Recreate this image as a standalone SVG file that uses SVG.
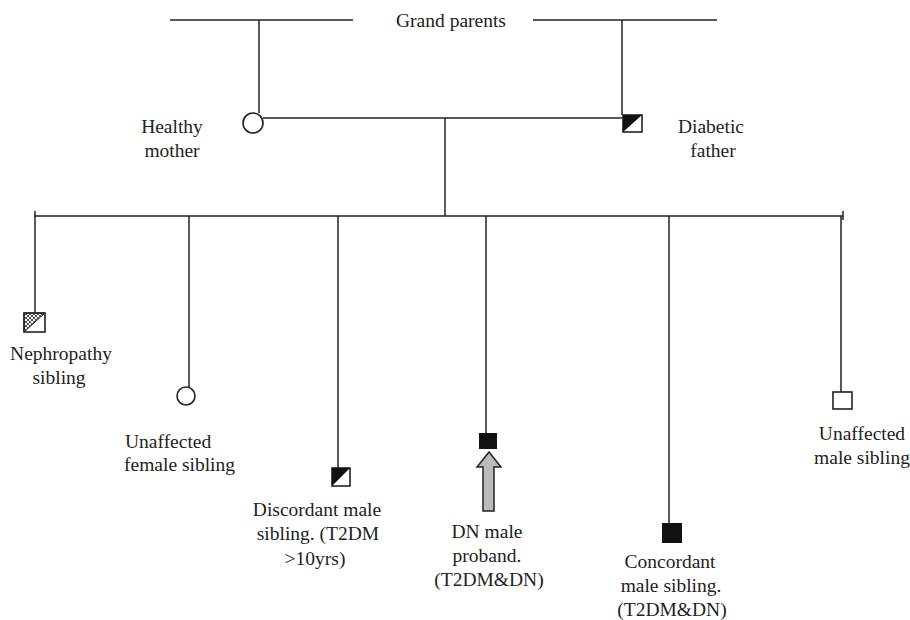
<svg xmlns="http://www.w3.org/2000/svg" width="910" height="620" viewBox="0 0 910 620">
<style>
.l{stroke:#222;stroke-width:1.5;fill:none}
.n{stroke:#222;stroke-width:1.6;fill:#fff}
.b{fill:#111}
text{font-family:"Liberation Serif","Times New Roman",serif;font-size:19.5px;fill:#222}
.m{text-anchor:middle}
</style>
<defs>
<pattern id="hatch" width="4" height="4" patternUnits="userSpaceOnUse">
<path d="M0 4L4 0M0 0L4 4" stroke="#222" stroke-width="0.8"/>
</pattern>
</defs>
<rect width="910" height="620" fill="#fff"/>
<g id="connectors">
<path class="l" d="M170 20H353M533 20H717"/>
<path class="l" d="M259 20V113M622 20V115"/>
<path class="l" d="M263 118H622"/>
<path class="l" d="M445 118V216"/>
<path class="l" d="M34 216H843M35 211V216M843 211V220"/>
<path class="l" d="M35 216V313M189 216V387M338 216V468M486 216V433M669 216V523M841 216V392"/>
</g>
<g id="grandparents"><text class="m" x="451" y="27">Grand parents</text></g>
<g id="mother">
<circle class="n" cx="253" cy="123" r="10"/>
<text class="m" x="172" y="133">Healthy</text><text class="m" x="172" y="157">mother</text>
</g>
<g id="father">
<rect class="n" x="623" y="115" width="19" height="17"/>
<path class="b" d="M623 115H642L623 132Z"/>
<text class="m" x="711" y="133">Diabetic</text><text class="m" x="713" y="157">father</text>
</g>
<g id="nephropathy">
<rect class="n" x="24" y="313" width="21" height="19"/>
<path d="M24 313H45L24 332Z" fill="url(#hatch)" stroke="#222" stroke-width="1"/>
<text class="m" x="61" y="360">Nephropathy</text><text class="m" x="59" y="384">sibling</text>
</g>
<g id="unaffected-female">
<circle class="n" cx="186" cy="396" r="9"/>
<text x="125" y="448">Unaffected</text><text x="124" y="471">female sibling</text>
</g>
<g id="discordant">
<rect class="n" x="332" y="468" width="18" height="18"/>
<path class="b" d="M332 468H350L332 486Z"/>
<text class="m" x="317" y="516">Discordant male</text><text class="m" x="318" y="540">sibling. (T2DM</text><text class="m" x="315" y="565">&gt;10yrs)</text>
</g>
<g id="proband">
<rect class="b" x="479" y="433" width="18" height="16"/>
<path d="M489 452L501 467H494V511H483V467H477Z" fill="#bbb" stroke="#222" stroke-width="1.5" stroke-linejoin="miter"/>
<text class="m" x="487" y="538">DN male</text><text class="m" x="487" y="562">proband.</text><text class="m" x="489" y="586">(T2DM&amp;DN)</text>
</g>
<g id="concordant">
<rect class="b" x="662" y="523" width="20" height="20"/>
<text class="m" x="670" y="568">Concordant</text><text class="m" x="671" y="592">male sibling.</text><text class="m" x="672" y="616">(T2DM&amp;DN)</text>
</g>
<g id="unaffected-male">
<rect class="n" x="833" y="392" width="19" height="17"/>
<text class="m" x="862" y="440">Unaffected</text><text class="m" x="862" y="464">male sibling</text>
</g>
</svg>
